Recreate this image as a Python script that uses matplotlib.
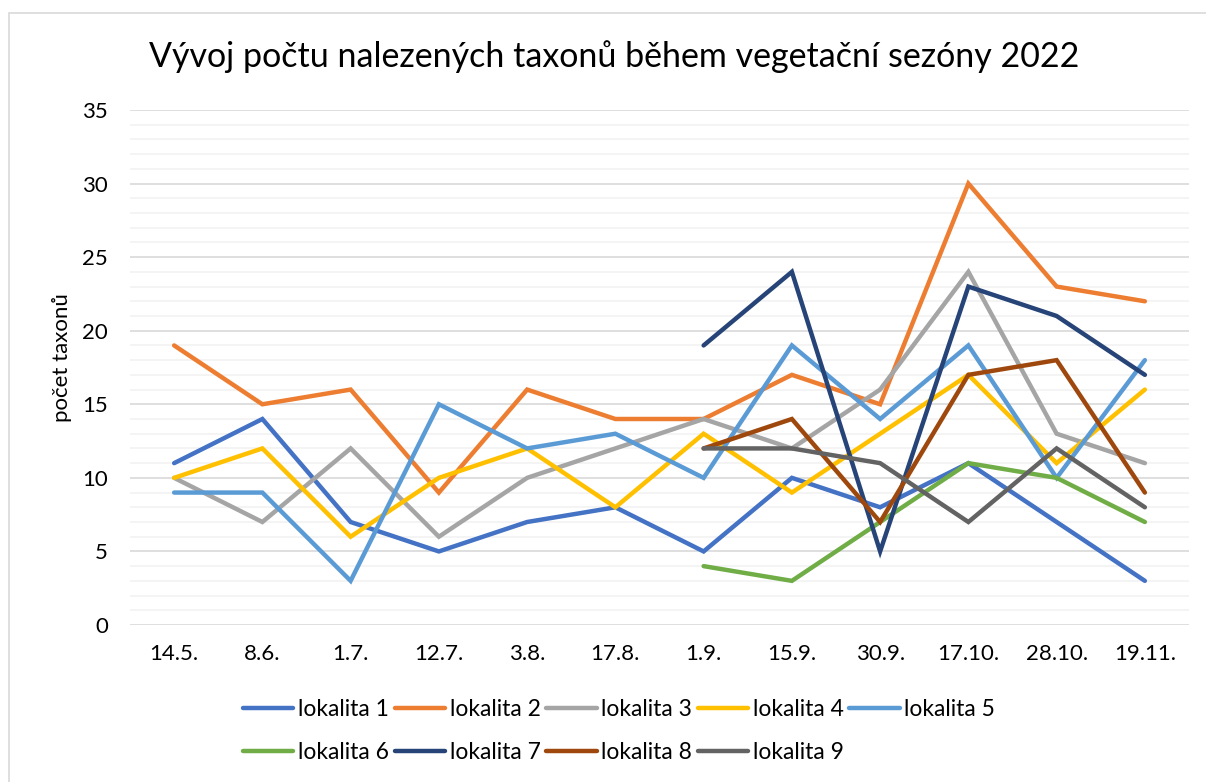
import matplotlib
matplotlib.use("Agg")
import matplotlib.pyplot as plt
import numpy as np
from matplotlib.patches import Rectangle

plt.rcParams['font.family'] = ['Lato', 'DejaVu Sans']

# Data
datumy = ["14.5.", "8.6.", "1.7.", "12.7.", "3.8.", "17.8.", "1.9.", "15.9.",
          "30.9.", "17.10.", "28.10.", "19.11."]
nan = np.nan
lok1 = [11, 14, 7, 5, 7, 8, 5, 10, 8, 11, 7, 3]
lok2 = [19, 15, 16, 9, 16, 14, 14, 17, 15, 30, 23, 22]
lok3 = [10, 7, 12, 6, 10, 12, 14, 12, 16, 24, 13, 11]
lok4 = [10, 12, 6, 10, 12, 8, 13, 9, 13, 17, 11, 16]
lok5 = [9, 9, 3, 15, 12, 13, 10, 19, 14, 19, 10, 18]
lok6 = [nan, nan, nan, nan, nan, nan, 4, 3, 7, 11, 10, 7]
lok7 = [nan, nan, nan, nan, nan, nan, 19, 24, 5, 23, 21, 17]
lok8 = [nan, nan, nan, nan, nan, nan, 12, 14, 7, 17, 18, 9]
lok9 = [nan, nan, nan, nan, nan, nan, 12, 12, 11, 7, 12, 8]

serie = [lok1, lok2, lok3, lok4, lok5, lok6, lok7, lok8, lok9]
nazvy = ["lokalita %d" % (i + 1) for i in range(9)]
barvy = ["#4472C4", "#ED7D31", "#A5A5A5", "#FFC000", "#5B9BD5",
         "#70AD47", "#264478", "#9E480E", "#636363"]

fig = plt.figure(figsize=(12.06, 7.82), dpi=100)
ax = fig.add_axes([130/1206, 1 - 625/782, (1189-130)/1206, (625-110)/782])

x = np.arange(len(datumy))
car = []
for y, n, c in zip(serie, nazvy, barvy):
    l, = ax.plot(x, y, color=c, lw=3.2, label=n, solid_capstyle='round',
                 solid_joinstyle='miter')
    car.append(l)

ax.set_xlim(-0.5, len(datumy) - 0.5)
ax.set_ylim(0, 35)
ax.set_yticks(np.arange(0, 36, 5))
ax.set_yticks(np.arange(0, 36, 1), minor=True)
ax.set_xticks(x)
ax.set_xticklabels(datumy)
ax.grid(which='major', axis='y', color='#D9D9D9', lw=1.2)
ax.grid(which='minor', axis='y', color='#F2F2F2', lw=1.2)
ax.set_axisbelow(True)
ax.tick_params(which='both', length=0, labelsize=16, colors='#000000')
ax.tick_params(axis='y', pad=16)
ax.tick_params(axis='x', pad=14)
for s in ax.spines.values():
    s.set_visible(False)

fig.text(62/1206, 1 - 358/782, "počet taxonů", rotation=90,
         ha='center', va='center', fontsize=16)
fig.text(0.5 * (150 + 1078) / 1206, 1 - 57/782,
         "Vývoj počtu nalezených taxonů během vegetační sezóny 2022",
         ha='center', va='center', fontsize=24.5)

# legenda po radcich
poradi = [0, 5, 1, 6, 2, 7, 3, 8, 4]
leg = fig.legend([car[i] for i in poradi], [nazvy[i] for i in poradi],
                 ncol=5, loc='center', bbox_to_anchor=(619/1206, 1 - 731/782),
                 frameon=False, fontsize=16.5, handlelength=2.2,
                 handletextpad=0.2, columnspacing=0.25, labelspacing=1.0)

# okraj grafu
fig.patches.append(Rectangle((8.5/1206, -0.1), 1.2, 1 - 12.5/782 + 0.1,
                             transform=fig.transFigure, fill=False,
                             edgecolor='#D9D9D9', lw=1.2))

fig.savefig("out.png", dpi=100)
